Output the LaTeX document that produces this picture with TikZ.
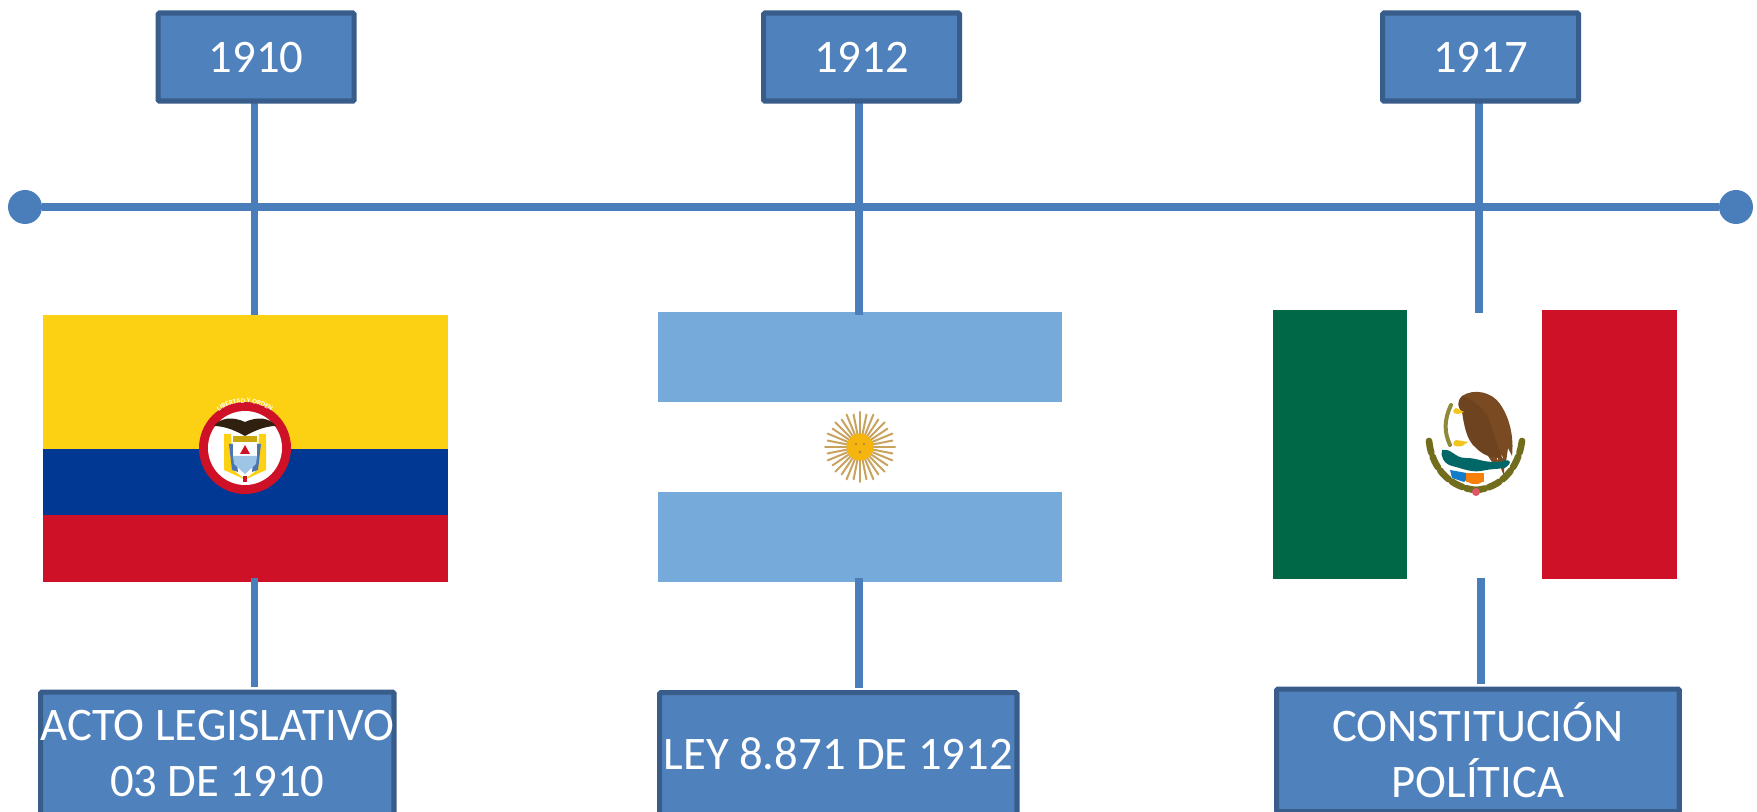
\documentclass[tikz,border=0pt]{standalone}
\usepackage{fontspec}
\setmainfont{Carlito}
\usetikzlibrary{decorations.text}
\definecolor{fillblue}{HTML}{4F81BD}
\definecolor{edgeblue}{HTML}{385D8A}
\definecolor{lineblue}{HTML}{4A7EBB}
\definecolor{colyellow}{HTML}{FDD113}
\definecolor{colblue}{HTML}{003893}
\definecolor{colred}{HTML}{CE1126}
\definecolor{argblue}{HTML}{75AADB}
\definecolor{mexgreen}{HTML}{006847}
\definecolor{sunor}{HTML}{F6B40E}
\definecolor{sunray}{HTML}{C9A25E}
\definecolor{eagle}{HTML}{7A4A22}
\tikzset{
 infobox/.style={draw=edgeblue,line width=3.9pt,fill=fillblue,text=white,rounded corners=1pt,align=center,font=\fontsize{35}{42}\selectfont,inner sep=0pt,anchor=north west},
 tline/.style={draw=lineblue,line width=5.6pt},
 dotend/.style={circle,fill=lineblue,minimum size=25.5pt,inner sep=0pt},
 flagimg/.style={inner sep=0pt,outer sep=0pt,anchor=north west}
}
\newcommand{\pxbox}[7]{\node[infobox,minimum width=#3*0.75pt,minimum height=#4*0.75pt] (#5) at (#1,#2) {#6};}
\begin{document}
\begin{tikzpicture}[x=0.75pt,y=-0.75pt]
\useasboundingbox (0,0) rectangle (1757,812);
\fill[white] (0,0) rectangle (1757,812);
% flags
\fill[colyellow] (43,315) rectangle (448,449);
\fill[colblue] (43,449) rectangle (448,515);
\fill[colred] (43,515) rectangle (448,582);
\fill[argblue] (658,312) rectangle (1062,402);
\fill[argblue] (658,492) rectangle (1062,582);
\fill[mexgreen] (1273,310) rectangle (1407,579);
\fill[colred] (1542,310) rectangle (1677,579);
% flag placeholders as nodes for connectors
\coordinate (f1t) at (254.5,315); \coordinate (f1b) at (254.5,578);
\coordinate (f2t) at (859,315); \coordinate (f2b) at (859,578);
\coordinate (f3t) at (1479,313); \coordinate (f3b) at (1481,578);
\coordinate (b1t) at (254.5,100); \coordinate (b2t) at (859,100); \coordinate (b3t) at (1479,100);
\coordinate (b1b) at (254.5,687); \coordinate (b2b) at (859,688); \coordinate (b3b) at (1481,684);
\node[dotend] (dl) at (25,207) {};
\node[dotend] (dr) at (1736,207) {};
\draw[tline] (dl) -- (dr);
\foreach \a/\b in {b1t/f1t,f1b/b1b,b2t/f2t,f2b/b2b,b3t/f3t,f3b/b3b}{\draw[tline] (\a) -- (\b);}
% boxes
\node[infobox,minimum width=147pt,minimum height=66pt] (y1) at (155.5,10.5) {1910};
\node[infobox,minimum width=147pt,minimum height=66pt] (y2) at (761,10.5) {1912};
\node[infobox,minimum width=147pt,minimum height=66pt] (y3) at (1380,10.5) {1917};
\node[infobox,minimum width=263pt,minimum height=92pt] (d1) at (38,689.5) {ACTO LEGISLATIVO\\03 DE 1910};
\node[infobox,minimum width=268pt,minimum height=92pt] (d2) at (657,690) {LEY 8.871 DE 1912};
\node[infobox,minimum width=302pt,minimum height=92pt] (d3) at (1274,686.5) {CONSTITUCIÓN\\POLÍTICA};
% Colombia emblem
\fill[colred] (245,448) circle (46);
\fill[white] (245,448) circle (37);
\path[decorate,decoration={text along path,text align=center,text={|\fontsize{6.6}{7}\bfseries\color{white}|REPUBLICA DE COLOMBIA}}] (245,448) ++(190:38.5) arc[start angle=190,end angle=350,x radius=38.5,y radius=-38.5];
\path[decorate,decoration={text along path,text align=center,text={|\fontsize{5.2}{6}\bfseries\color{white}|LIBERTAD Y ORDEN}}] (245,448) ++(215:45) arc[start angle=215,end angle=325,x radius=45,y radius=45];
\fill[black!75!brown] (245,422) .. controls (232,416) and (220,418) .. (214,426) .. controls (226,426) and (238,432) .. (245,436) .. controls (252,432) and (264,426) .. (276,426) .. controls (270,418) and (258,416) .. (245,422) -- cycle;
\fill[colyellow] (224,434) -- (231,434) -- (233,470) -- (246,480) -- (224,470) -- cycle;
\fill[colyellow] (266,434) -- (259,434) -- (257,470) -- (244,480) -- (266,470) -- cycle;
\fill[colblue!70] (229,444) -- (232,470) -- (238,472) -- (235,444) -- cycle;
\fill[colblue!70] (261,444) -- (258,470) -- (252,472) -- (255,444) -- cycle;
\fill[white] (233,436) rectangle (257,456);
\fill[colyellow!80!black] (233,436) rectangle (257,442);
\fill[colred] (245,445) -- (250,454) -- (240,454) -- cycle;
\fill[argblue!70] (233,456) -- (257,456) -- (256,464) -- (245,474) -- (234,464) -- cycle;
\fill[colred] (243,476) rectangle (247,482);
% Argentina sun
\foreach \k in {0,...,31}{
 \pgfmathsetmacro{\rr}{mod(\k,2)==0?35:33}
 \draw[sunray,line width=1.5pt,line cap=round] (860,447) ++(\k*11.25:12) -- ++(\k*11.25:\rr-12);
}
\fill[sunor] (860,447) circle (13.5);
\fill[sunray!80!black] (856,444) circle (1.2) (864,444) circle (1.2) (860,452) circle (1.4);
% Mexico emblem
\fill[eagle] (1462,396) .. controls (1474,388) and (1492,392) .. (1500,404) .. controls (1510,418) and (1514,438) .. (1512,456) -- (1508,448) -- (1506,462) .. controls (1500,452) and (1492,444) .. (1490,448) .. controls (1492,456) and (1502,468) .. (1504,456) -- (1504,476) -- (1496,456) -- (1488,456) .. controls (1496,468) and (1500,476) .. (1498,458) .. controls (1500,452) and (1504,462) .. (1503,458) -- (1506,450) -- (1506,466) .. controls (1504,475) and (1498,456) .. (1490,455) -- cycle;
\fill[eagle!90!black] (1462,396) .. controls (1456,402) and (1458,408) .. (1462,412) .. controls (1464,424) and (1466,440) .. (1476,448) .. controls (1484,456) and (1492,458) .. (1502,458) .. controls (1498,446) and (1494,436) .. (1490,422) .. controls (1486,410) and (1474,400) .. (1462,396) -- cycle;
\fill[colyellow!85!brown] (1456,408) .. controls (1452,410) and (1452,414) .. (1458,414) -- (1464,412) -- cycle;
\fill[colyellow!85!brown] (1456,440) .. controls (1450,444) and (1454,448) .. (1462,446) -- (1468,442) -- cycle;
\draw[olive!60!gray,line width=3pt,line cap=round] (1451,405) .. controls (1444,420) and (1444,432) .. (1450,445);
\fill[teal!80!black] (1442,450) .. controls (1452,448) and (1454,458) .. (1466,458) .. controls (1478,458) and (1480,462) .. (1496,462) .. controls (1504,462) and (1508,458) .. (1510,462) .. controls (1508,470) and (1498,468) .. (1486,470) .. controls (1472,474) and (1462,468) .. (1452,466) .. controls (1444,464) and (1440,456) .. (1442,450) -- cycle;
\fill[cyan!60!blue] (1450,470) -- (1472,474) -- (1464,482) -- (1452,478) -- cycle;
\fill[orange!85!brown] (1466,473) rectangle (1484,482);
\fill[orange!85!brown] (1468,482) -- (1482,482) -- (1478,484) -- (1472,484) -- cycle;
\draw[olive!75!black,line width=5pt,dash pattern=on 9pt off 3pt,line cap=round] (1429,441) .. controls (1432,470) and (1452,488) .. (1476,490);
\draw[olive!75!black,line width=5pt,dash pattern=on 9pt off 3pt,line cap=round] (1522,441) .. controls (1518,470) and (1500,488) .. (1476,490);
\fill[colred!70] (1476,492) circle (4);
\end{tikzpicture}
\end{document}
